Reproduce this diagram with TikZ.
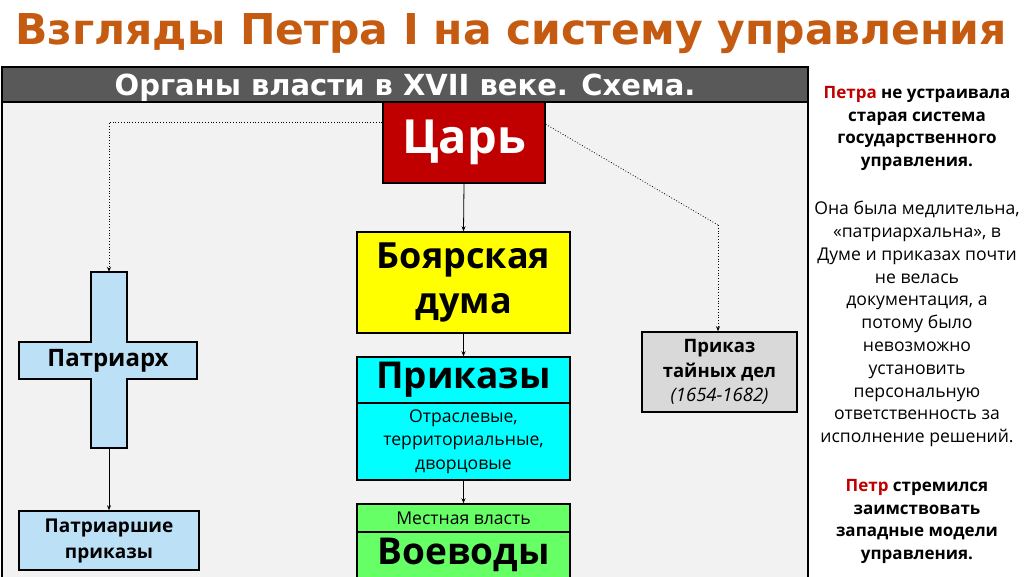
\documentclass[tikz,border=0pt]{standalone}
\usepackage{fontspec}
\usetikzlibrary{calc,arrows.meta}
\setmainfont{Open Sans}
\newfontfamily\dvs{DejaVu Sans}
\definecolor{titlec}{HTML}{C55A11}
\definecolor{hdr}{HTML}{595959}
\definecolor{panel}{HTML}{F2F2F2}
\definecolor{tsarred}{HTML}{C00000}
\definecolor{yel}{HTML}{FFFF00}
\definecolor{cya}{HTML}{00FFFF}
\definecolor{grn}{HTML}{66FF66}
\definecolor{lblue}{HTML}{BCE0F5}
\definecolor{lgray}{HTML}{D9D9D9}
\definecolor{accred}{HTML}{C00000}
\tikzset{
  boxst/.style={draw=black, line width=1.5pt, inner sep=0pt, align=center},
  conn/.style={line width=0.8pt, -{Stealth[length=5pt,width=4pt]}},
  dotconn/.style={line width=0.8pt, dotted, -{Stealth[length=5pt,width=4pt]}},
  dotline/.style={line width=0.8pt, dotted},
  sidetext/.style={inner sep=0pt, align=center, anchor=north, font=\fontsize{17.6}{22.8}\selectfont},
  sidebold/.style={sidetext, font=\bfseries\fontsize{17}{22.8}\selectfont}
}
\begin{document}
\begin{tikzpicture}[x=1pt,y=-1pt]
\useasboundingbox (0,0) rectangle (1024,576);
\fill[white] (0,0) rectangle (1024,576);
% title
\node[inner sep=0pt, text=titlec, font=\dvs\bfseries\fontsize{42.5}{44}\selectfont] (title) at (511,34) {Взгляды Петра I на систему управления};
% panel
\begin{scope}
\clip (0,0) rectangle (1024,576);
\draw[line width=2pt, fill=panel] (2,67) rectangle (808,590);
\draw[line width=2pt, fill=hdr] (2,67) rectangle (808,102);
\end{scope}
\node[inner sep=0pt, text=white, font=\dvs\bfseries\fontsize{29}{30}\selectfont] (hdrtext) at (405,87.5) {Органы власти в XVII веке. Схема.};
% Tsar
\node[boxst, fill=tsarred, text=white, minimum width=162pt, minimum height=81pt, font=\bfseries\fontsize{47}{50}\selectfont] (tsar) at (464,142.5) {Царь};
% Duma
\node[boxst, fill=yel, minimum width=213pt, minimum height=101pt, font=\bfseries\fontsize{36}{45}\selectfont] (duma) at (463.5,282.5) {Боярская\\дума};
% Prikazy
\node[boxst, fill=cya, minimum width=213pt, minimum height=46pt, font=\bfseries\fontsize{37}{38}\selectfont] (prik) at (463.5,380) {Приказы};
\node[boxst, fill=cya, minimum width=213pt, minimum height=77pt, font=\fontsize{17.6}{23.5}\selectfont] (prikd) at (463.5,441.5) {Отраслевые,\\территориальные,\\дворцовые};
% Local
\node[boxst, fill=grn, minimum width=213pt, minimum height=28pt, font=\fontsize{17.6}{19}\selectfont] (mest) at (463.5,518) {Местная власть};
\node[boxst, fill=grn, minimum width=213pt, minimum height=46pt, font=\bfseries\fontsize{37}{38}\selectfont] (voev) at (463.5,555) {Воеводы};
% Cross
\draw[line width=1.5pt, fill=lblue] (91,272) -- (127,272) -- (127,342) -- (197,342) -- (197,379) -- (127,379) -- (127,448) -- (91,448) -- (91,379) -- (19,379) -- (19,342) -- (91,342) -- cycle;
\node[inner sep=0pt, minimum width=36pt, minimum height=176pt] (crossv) at (109,360) {};
\node[inner sep=0pt, font=\bfseries\fontsize{24}{26}\selectfont] (patr) at (108,361) {Патриарх};
% Patriarch prikazy
\node[boxst, fill=lblue, minimum width=180pt, minimum height=59pt, font=\bfseries\fontsize{19}{26}\selectfont] (pprik) at (109,540.5) {Патриаршие\\приказы};
% Secret prikaz
\node[boxst, fill=lgray, minimum width=155pt, minimum height=80pt, font=\fontsize{18.5}{24.5}\selectfont] (tainy) at (719.5,372) {\textbf{Приказ}\\\textbf{тайных дел}\\\textit{(1654-1682)}};
% connectors
\draw[conn] (tsar.south) -- (duma.north);
\draw[conn] (duma.south) -- (prik.north);
\draw[conn] (prikd.south) -- (mest.north);
\draw[conn] (crossv.south) -- (pprik.north);
\draw[dotconn] ($(tsar.north west)+(0,21)$) -| (crossv.north);
\coordinate (bend) at (718,225);
\draw[dotline] ($(tsar.north east)+(0,23)$) -- (bend);
\draw[dotconn] (bend) -- (bend |- tainy.north);
% side text
\node[sidebold] (p1) at (917,86) {\textcolor{accred}{Петра} не устраивала\\старая система\\государственного\\управления.};
\node[sidetext] (p2) at (917,201) {Она была медлительна,\\«патриархальна», в\\Думе и приказах почти\\не велась\\документация, а\\потому было\\невозможно\\установить\\персональную\\ответственность за\\исполнение решений.};
\node[sidebold] (p3) at (917,479) {\textcolor{accred}{Петр} стремился\\заимствовать\\западные модели\\управления.};
\end{tikzpicture}
\end{document}
